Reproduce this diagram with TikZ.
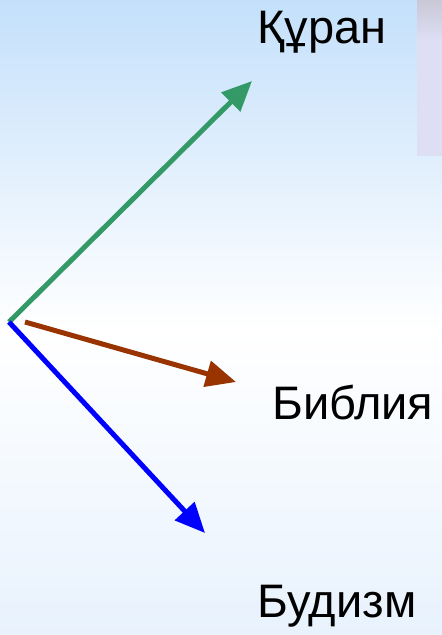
\documentclass[tikz,border=0pt]{standalone}
\usepackage{fontspec}
\setmainfont{Liberation Sans}
\usetikzlibrary{arrows.meta}
\definecolor{bgtop}{RGB}{196,224,251}
\definecolor{bgmid}{RGB}{255,255,255}
\definecolor{bgbot}{RGB}{232,242,253}
\definecolor{cgreen}{RGB}{51,153,102}
\definecolor{cbrown}{RGB}{153,51,0}
\definecolor{cblue}{RGB}{0,0,255}
\definecolor{imgtop}{RGB}{200,200,215}
\definecolor{imgbot}{RGB}{222,222,245}
\begin{document}
\begin{tikzpicture}[x=1pt,y=-1pt,
  vec/.style={line width=5pt,-{Triangle[length=30pt,width=26pt]}},
  lbl/.style={anchor=base west,inner sep=0pt,font=\fontsize{47}{52}\selectfont}]
\useasboundingbox (0,0) rectangle (442,635);
\shade[top color=bgtop,bottom color=bgmid] (0,0) rectangle (442,330);
\shade[top color=bgmid,bottom color=bgbot] (0,330) rectangle (442,635);
\shade[top color=imgtop,bottom color=imgbot] (417,0) rectangle (442,40);
\fill[imgbot] (417,40) rectangle (442,156);
\coordinate (o) at (9,322);
\coordinate (ob) at (25,322);
\coordinate (tg) at (252,81);
\coordinate (tb) at (236,382);
\coordinate (tl) at (205,533);
\draw[vec,cgreen] (o) -- (tg);
\draw[vec,cbrown] (ob) -- (tb);
\draw[vec,cblue] (o) -- (tl);
\node[lbl] (quran) at (257,43) {Құран};
\node[lbl] (bible) at (272,419) {Библия};
\node[lbl] (budd) at (257,617) {Будизм};
\end{tikzpicture}
\end{document}
